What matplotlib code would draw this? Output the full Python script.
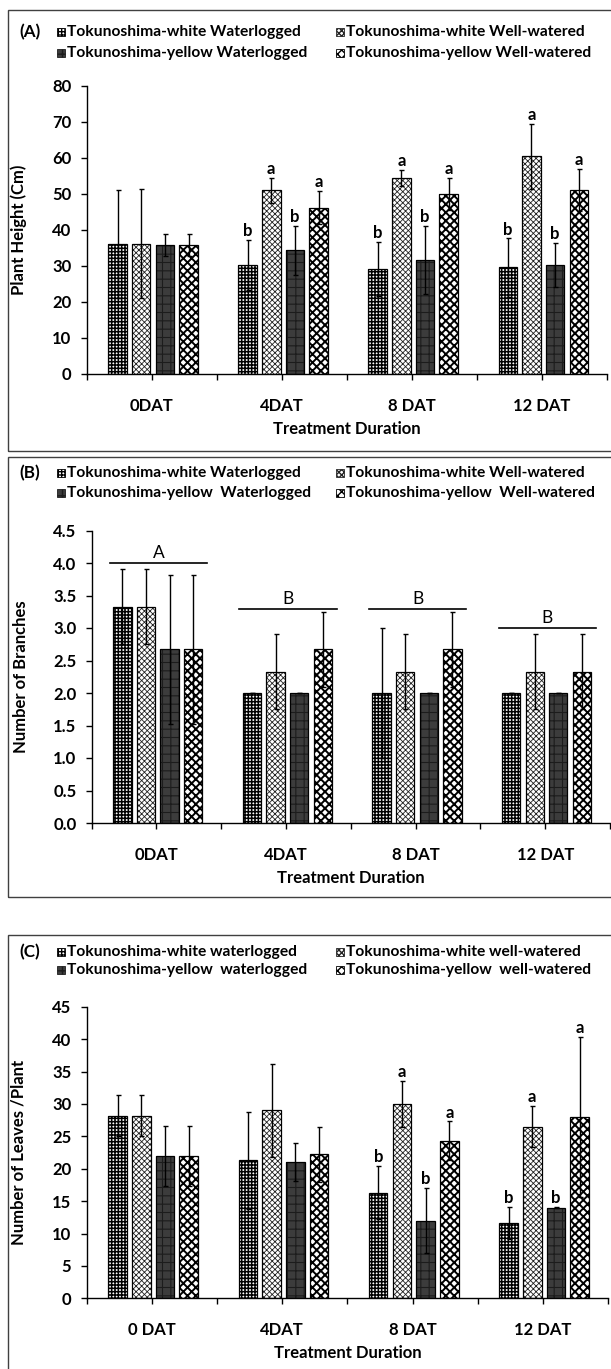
#!/usr/bin/env python3
#
# Plant height, branches and leaves of two Tokunoshima lines
#
import matplotlib
matplotlib.use('Agg')
import matplotlib.pyplot as plt
from matplotlib.patches import Rectangle
import numpy as np

plt.rcParams['font.family'] = ['Lato', 'DejaVu Sans']

# Data: one row per series, one column per duration
durations_a = ['0DAT', '4DAT', '8 DAT', '12 DAT']
durations_c = ['0 DAT', '4DAT', '8 DAT', '12 DAT']

series_a = ['Tokunoshima-white Waterlogged', 'Tokunoshima-white Well-watered',
            'Tokunoshima-yellow Waterlogged', 'Tokunoshima-yellow Well-watered']
series_b = ['Tokunoshima-white Waterlogged', 'Tokunoshima-white Well-watered',
            'Tokunoshima-yellow  Waterlogged', 'Tokunoshima-yellow  Well-watered']
series_c = ['Tokunoshima-white waterlogged', 'Tokunoshima-white well-watered',
            'Tokunoshima-yellow  waterlogged', 'Tokunoshima-yellow  well-watered']

height_mean = [[36.2, 30.3, 29.3, 29.6],
               [36.2, 51.0, 54.5, 60.5],
               [35.8, 34.4, 31.7, 30.3],
               [35.8, 46.2, 50.0, 51.2]]
height_err = [[15.0, 7.0, 7.5, 8.1],
              [15.2, 3.5, 2.2, 9.0],
              [3.0, 6.8, 9.4, 6.2],
              [3.0, 4.6, 4.4, 5.8]]
height_sig = [['', 'b', 'b', 'b'],
              ['', 'a', 'a', 'a'],
              ['', 'b', 'b', 'b'],
              ['', 'a', 'a', 'a']]

branch_mean = [[3.33, 2.0, 2.0, 2.0],
               [3.33, 2.33, 2.33, 2.33],
               [2.67, 2.0, 2.0, 2.0],
               [2.67, 2.67, 2.67, 2.33]]
branch_err = [[0.58, 0.0, 1.0, 0.0],
              [0.58, 0.58, 0.58, 0.58],
              [1.15, 0.0, 0.0, 0.0],
              [1.15, 0.58, 0.58, 0.58]]
branch_group = ['A', 'B', 'B', 'B']
branch_group_y = [4.0, 3.3, 3.3, 3.0]

leaves_mean = [[28.2, 21.3, 16.3, 11.6],
               [28.2, 29.0, 30.0, 26.5],
               [22.0, 21.0, 12.0, 14.0],
               [22.0, 22.2, 24.3, 28.0]]
leaves_err = [[3.2, 7.5, 4.1, 2.5],
              [3.2, 7.2, 3.6, 3.2],
              [4.6, 2.9, 5.0, 0.1],
              [4.6, 4.2, 3.0, 12.4]]
leaves_sig = [['', '', 'b', 'b'],
              ['', '', 'a', 'a'],
              ['', '', 'b', 'b'],
              ['', '', 'a', 'a']]

# Styles
W, H = 611, 1369
faces = ['white', 'white', '#3c3c3c', 'white']
hatch_colors = ['black', '#222222', '#1c1c1c', 'black']
hatches = ['+++++', 'xxxxxx', '++', 'xxxx']
hatch_lws = [1.1, 0.6, 0.8, 1.4]
offsets = (np.arange(4) - 1.5) * 0.182 + 0.01
width = 0.142
fs = 12


def fx(px):
    return px / W


def fy(py):
    return 1 - py / H


def styled_bar(ax, x, h, i):
    bars = ax.bar(x, h, width, facecolor=faces[i], edgecolor=hatch_colors[i],
                  hatch=hatches[i], linewidth=0)
    for b in bars:
        if hasattr(b, 'set_hatch_linewidth'):
            b.set_hatch_linewidth(hatch_lws[i])
    ax.bar(x, h, width, fill=False, edgecolor='black', linewidth=0.9)


def legend(labels, tag, rows, fsl):
    fig.text(fx(19), fy(rows[0]), tag, fontsize=fsl + 1, fontweight='bold',
             va='center', ha='left')
    spots = [(57, rows[0]), (336, rows[0]), (57, rows[1]), (336, rows[1])]
    for i, (mx, my) in enumerate(spots):
        r = Rectangle((fx(mx), fy(my + 4)), 8 / W, 8 / H,
                      transform=fig.transFigure, facecolor=faces[i],
                      edgecolor=hatch_colors[i], hatch=hatches[i],
                      linewidth=0.6)
        fig.add_artist(r)
        fig.text(fx(mx + 10), fy(my), labels[i], fontsize=fsl,
                 fontweight='bold', va='center', ha='left')


def panel(rect, mean, err, ymax, ystep, yfmt, ylabel, xlabels, sig,
          ylabel_x):
    left, right, top, bottom = rect
    ax = fig.add_axes([fx(left), fy(bottom), fx(right - left),
                       (bottom - top) / H])
    x = np.arange(4) + 0.5
    for i in range(4):
        xs = x + offsets[i]
        styled_bar(ax, xs, mean[i], i)
        ax.errorbar(xs, mean[i], yerr=err[i], fmt='none', ecolor='black',
                    elinewidth=1, capsize=1.8, capthick=1)
        if sig is not None:
            for j, s in enumerate(sig[i]):
                if s:
                    ax.annotate(s, (xs[j], mean[i][j] + err[i][j]),
                                xytext=(0, 0.5), textcoords='offset points',
                                ha='center', va='bottom', fontsize=fs,
                                fontweight='bold')
    ax.set_xlim(0, 4)
    ax.set_ylim(0, ymax)
    ax.set_yticks(np.arange(0, ymax + ystep / 2, ystep))
    ax.yaxis.set_major_formatter(matplotlib.ticker.FormatStrFormatter(yfmt))
    ax.set_xticks(x)
    ax.set_xticklabels(xlabels)
    ax.set_xticks(np.arange(5), minor=True)
    for s in ('top', 'right'):
        ax.spines[s].set_visible(False)
    for s in ('left', 'bottom'):
        ax.spines[s].set_linewidth(1)
    ax.tick_params(which='both', length=4, width=1, direction='out')
    ax.tick_params(axis='x', which='major', pad=13)
    ax.tick_params(axis='y', pad=7)
    ax.tick_params(labelsize=fs)
    for t in ax.get_xticklabels() + ax.get_yticklabels():
        t.set_fontweight('bold')
    ax.set_ylabel(ylabel, fontsize=fs, fontweight='bold')
    ax.yaxis.set_label_coords(-(left - ylabel_x) / (right - left), 0.5)
    ax.set_xlabel('Treatment Duration', fontsize=fs, fontweight='bold',
                  labelpad=5)
    return ax


fig = plt.figure(figsize=(W / 100, H / 100), dpi=100)

# Fit the legend text size to the width seen in the reference
probe = fig.text(0, 0, series_a[0], fontsize=10, fontweight='bold')
pw = probe.get_window_extent(fig.canvas.get_renderer()).width
probe.remove()
fsl = 10 * 234 / pw

# Panel boxes
for top, bottom in ((10, 451), (457, 897), (935, 1380)):
    fig.add_artist(Rectangle((fx(8), fy(bottom)), 1.2, (bottom - top) / H,
                             transform=fig.transFigure, fill=False,
                             edgecolor='#404040', linewidth=1))

# (A) plant height
panel((86.7, 607, 86, 374), height_mean, height_err, 80, 10, '%d',
      'Plant Height (Cm)', durations_a, height_sig, 27)
legend(series_a, '(A)', (32, 53), fsl)

# (B) branches
axb = panel((91.7, 610, 530.5, 823), branch_mean, branch_err, 4.5, 0.5,
            '%.1f', 'Number of Branches', durations_a, None, 29)
for j, (g, gy) in enumerate(zip(branch_group, branch_group_y)):
    c = j + 0.5
    axb.plot([c - 0.36, c + 0.39], [gy, gy], color='black', lw=1.2)
    axb.text(c + 0.015, gy + 0.03, g, ha='center', va='bottom',
             fontsize=fs + 0.5)
legend(series_b, '(B)', (473, 493), fsl)

# (C) leaves
panel((86.7, 608, 1006.7, 1298.3), leaves_mean, leaves_err, 45, 5, '%d',
      'Number of Leaves /Plant', durations_c, leaves_sig, 27)
legend(series_c, '(C)', (952, 970), fsl)

fig.savefig('out.png', dpi=100)
